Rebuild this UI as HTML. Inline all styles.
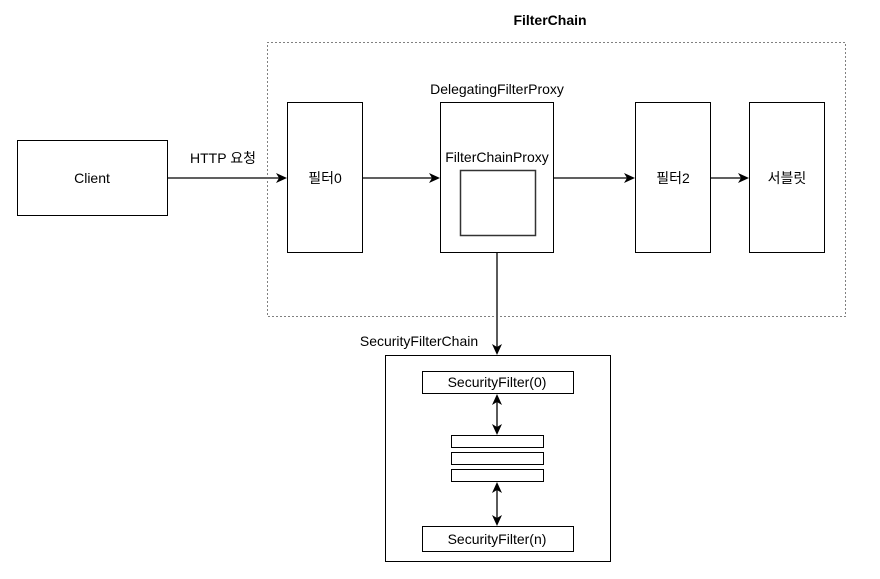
<!DOCTYPE html>
<html><head><meta charset="utf-8"><style>body{margin:0;background:#fff}</style></head><body>
<svg width="880" height="574" xmlns="http://www.w3.org/2000/svg" font-family="'Liberation Sans','Noto Sans CJK KR',sans-serif" font-size="14">
<rect width="880" height="574" fill="#fff"/>
<text x="550" y="25" text-anchor="middle" font-weight="bold">FilterChain</text>
<rect x="267.5" y="42.5" width="578" height="274" fill="none" stroke="#000" stroke-dasharray="1 3"/>
<g fill="#fff" stroke="#000">
<rect x="17.5" y="140.5" width="150" height="75"/>
<rect x="287.5" y="102.5" width="75" height="150"/>
<rect x="440.5" y="102.5" width="113" height="150"/>
<rect x="460.5" y="170.5" width="75" height="65" stroke="#333" stroke-width="1.5"/>
<rect x="635.5" y="102.5" width="75" height="150"/>
<rect x="749.5" y="102.5" width="75" height="150"/>
<rect x="385.5" y="355.5" width="225" height="206"/>
<rect x="422.5" y="371.5" width="151" height="22"/>
<rect x="451.5" y="435.5" width="92" height="12"/>
<rect x="451.5" y="452.5" width="92" height="12"/>
<rect x="451.5" y="469.5" width="92" height="12"/>
<rect x="422.5" y="526.5" width="151" height="25"/>
</g>
<g stroke="#000" stroke-width="1.3" fill="none">
<line x1="167.5" y1="178" x2="280" y2="178"/>
<line x1="362.5" y1="178" x2="433" y2="178"/>
<line x1="553.5" y1="178" x2="628" y2="178"/>
<line x1="710.5" y1="178" x2="742" y2="178"/>
<line x1="497" y1="252.5" x2="497" y2="348"/>
<line x1="497" y1="400" x2="497" y2="428"/>
<line x1="497" y1="488" x2="497" y2="519"/>
</g>
<g fill="#000">
<path d="M287,178 L276,173 L279,178 L276,183 Z"/>
<path d="M440,178 L429,173 L432,178 L429,183 Z"/>
<path d="M635,178 L624,173 L627,178 L624,183 Z"/>
<path d="M749,178 L738,173 L741,178 L738,183 Z"/>
<path d="M497,355 L492,344 L497,347 L502,344 Z"/>
<path d="M497,394 L492,405 L497,402 L502,405 Z"/>
<path d="M497,435 L492,424 L497,427 L502,424 Z"/>
<path d="M497,482 L492,493 L497,490 L502,493 Z"/>
<path d="M497,526 L492,515 L497,518 L502,515 Z"/>
</g>
<g text-anchor="middle">
<text x="92" y="183">Client</text>
<text x="223" y="163">HTTP 요청</text>
<text x="325" y="183">필터0</text>
<text x="497" y="94">DelegatingFilterProxy</text>
<text x="497" y="162">FilterChainProxy</text>
<text x="673" y="183">필터2</text>
<text x="787" y="183">서블릿</text>
<text x="419" y="346">SecurityFilterChain</text>
<text x="497" y="387">SecurityFilter(0)</text>
<text x="497" y="544">SecurityFilter(n)</text>
</g>
</svg>
</body></html>
